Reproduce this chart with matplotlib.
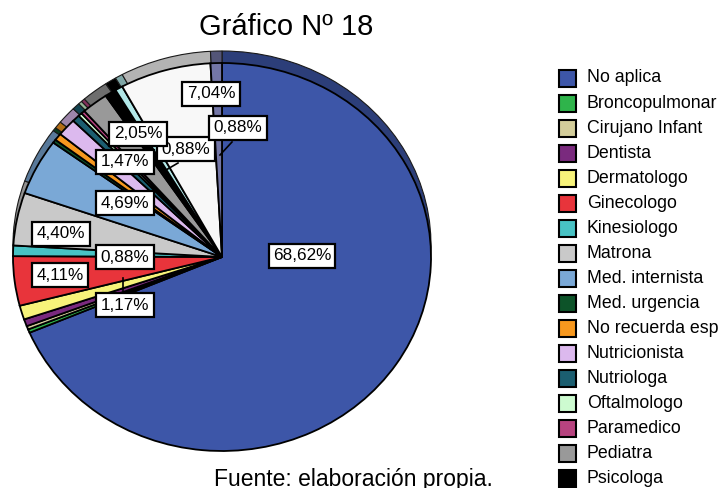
import matplotlib
matplotlib.use("Agg")
import matplotlib.pyplot as plt
from matplotlib.patches import Rectangle
import matplotlib.colors as mcolors

plt.rcParams['font.family'] = ['Liberation Sans', 'DejaVu Sans']

categories = ["No aplica", "Broncopulmonar", "Cirujano Infant", "Dentista", "Dermatologo",
              "Ginecologo", "Kinesiologo", "Matrona", "Med. internista", "Med. urgencia",
              "No recuerda esp", "Nutricionista", "Nutriologa", "Oftalmologo", "Paramedico",
              "Pediatra", "Psicologa", "Psiquiatra", "Traumatologo", "Urologo"]
percentages = [68.62, 0.29, 0.29, 0.59, 1.17,
               4.11, 0.88, 4.40, 4.69, 0.29,
               0.59, 1.47, 0.59, 0.29, 0.29,
               2.05, 0.88, 0.59, 7.04, 0.88]
colors = ["#3d56a8", "#2fb44b", "#d3cd9a", "#7a2a7e", "#f7f37a",
          "#e8343b", "#48c2c4", "#c9c9c9", "#7aa8d6", "#0d5329",
          "#f7981e", "#dcb9ee", "#1b5e70", "#cdfbd0", "#b7437f",
          "#999999", "#000000", "#b2e8e8", "#f8f8f8", "#7376a6"]

W, H = 722, 488
cx, cy = 222, 257      # pie centre in pixels
rx, ry = 209, 194      # ellipse radii in pixels
depth = 12             # 3D rim depth in pixels

fig = plt.figure(figsize=(W / 100, H / 100), dpi=100)

ax = fig.add_axes([0, 0, 1, 1])
dark = [tuple(c * 0.72 for c in mcolors.to_rgb(col)) for col in colors]
ax.pie(percentages, colors=dark, startangle=90, counterclock=False,
       center=(0, depth / ry), radius=1,
       wedgeprops=dict(edgecolor="#1a1a1a", linewidth=0.8))
ax.pie(percentages, colors=colors, startangle=90, counterclock=False,
       center=(0, 0), radius=1,
       wedgeprops=dict(edgecolor="black", linewidth=1.3))
ax.set_aspect('auto')
ax.set_xlim(-cx / rx, (W - cx) / rx)
ax.set_ylim(-(H - cy) / ry, cy / ry)
ax.axis('off')

ov = fig.add_axes([0, 0, 1, 1], zorder=5)
ov.set_xlim(0, W)
ov.set_ylim(H, 0)
ov.axis('off')

# labels (only slices large enough were labelled)
label_pos = {0: (302, 256), 4: (125, 305), 5: (60, 275), 6: (125, 257), 7: (61, 234),
             8: (125, 203), 11: (125, 162), 15: (138, 134), 16: (186, 149),
             18: (211, 94), 19: (238, 128)}
leaders = {4: ((123, 278), (123, 291)), 16: ((166, 170), (178, 163)),
           19: ((220, 155), (232, 142))}
for i, (lx, ly) in label_pos.items():
    if i in leaders:
        (x0, y0), (x1, y1) = leaders[i]
        ov.plot([x0, x1], [y0, y1], color="black", lw=1.2, zorder=6)
order = [0, 4, 5, 7, 6, 8, 11, 16, 15, 18, 19]
for i in order:
    lx, ly = label_pos[i]
    txt = f"{percentages[i]:.2f}%".replace(".", ",")
    ov.text(lx, ly, txt, ha='center', va='center', fontsize=12.3, zorder=7,
            bbox=dict(boxstyle='square,pad=0.25', fc='white', ec='black', lw=1.6))

# title and source
ov.text(286, 27, "Gráfico Nº 18", ha='center', va='center', fontsize=21)
ov.text(353, 486, "Fuente: elaboración propia.", ha='center', va='baseline', fontsize=16.5)

# legend
for k, (name, col) in enumerate(zip(categories, colors)):
    yc = 78 + k * 25.05
    ov.add_patch(Rectangle((559, yc - 8.5), 17, 17, facecolor=col, edgecolor='black', lw=1.5))
    ov.text(587, yc, name, ha='left', va='center', fontsize=12.8)

fig.savefig("out.png", dpi=100)
